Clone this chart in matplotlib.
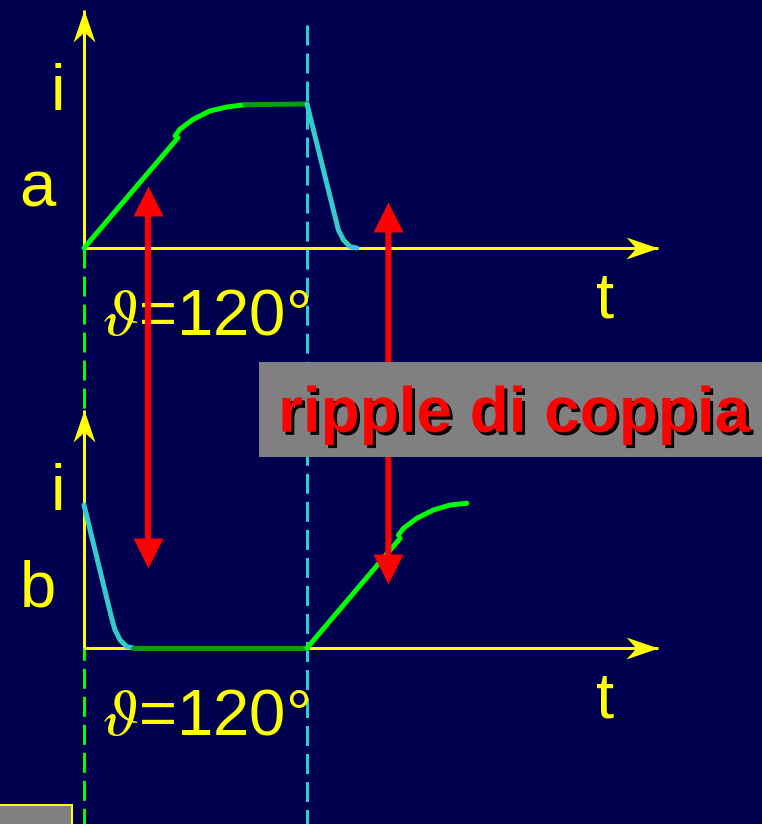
import matplotlib
matplotlib.use('Agg')
import matplotlib.pyplot as plt
from matplotlib.path import Path
from matplotlib.patches import Rectangle, ConnectionPatch
from matplotlib.transforms import offset_copy
import matplotlib.patheffects as pe

plt.rcParams['font.family'] = ['Liberation Sans', 'DejaVu Sans']
plt.rcParams['mathtext.fontset'] = 'stix'

# ---------------- data (t in electrical degrees, i normalised: plateau = 1) ----
a_rise_t = [0, 50.6]
a_rise_i = [0, 0.766]
a_knee_t = [49.0, 51.7, 58.8, 67.8, 76.8, 86.7]
a_knee_i = [0.779, 0.826, 0.894, 0.952, 0.979, 0.995]
a_flat_t = [86.7, 120]
a_flat_i = [0.995, 1.0]
a_fall_t = [120, 135.1, 136.9, 139.6, 143.2, 146.8]
a_fall_i = [1.0, 0.217, 0.125, 0.056, 0.009, 0.0]

b_fall_t = [0, 14.9, 16.7, 19.4, 23.0, 26.5]
b_fall_i = [0.993, 0.206, 0.125, 0.056, 0.009, 0.0]
b_flat_t = [26.5, 120]
b_flat_i = [0, 0]
b_rise_t = [120, 170.1]
b_rise_i = [0, 0.762]
b_knee_t = [169.2, 171.9, 179.1, 188.0, 197.0, 206.0]
b_knee_i = [0.785, 0.831, 0.901, 0.958, 0.993, 1.005]

commutation_t = 120
axis_t_end = 309
axis_i_end = 1.653
dash_top_i = 1.549
dash_bottom_i = -4.2

ripple_t = [34.4, 163.8]
ripple_top_i = [0.433, 0.321]   # arrow tip, panel a
ripple_bot_i = [0.553, 0.444]   # arrow tip, panel b

panel_labels = ['a', 'b']
current_label = 'i'
time_label = 't'
angle_label = r'$\vartheta$=120°'
ripple_label = 'ripple di coppia'

# ---------------- layout / style ----------------
W, H, DPI = 762, 824, 100
X0 = 84                 # pixel x of the origins
PX_PER_DEG = 223 / 120
PX_PER_UNIT = 144
OY_A, OY_B = 248, 648   # pixel y of the two origins

BG = '#000050'
YEL = '#ffff00'
GRN = '#00ff00'
DGRN = '#00a000'
CYAN = '#33cccc'
RED = '#ff0000'
GRAY = '#808080'
PT = 0.72               # points per pixel at 100 dpi

fig = plt.figure(figsize=(W / DPI, H / DPI), dpi=DPI, facecolor=BG)
ax = fig.add_axes([0, 0, 1, 1])
ax.set_xlim(-X0 / PX_PER_DEG, (W - X0) / PX_PER_DEG)
ax.set_ylim(-(H - OY_A) / PX_PER_UNIT, OY_A / PX_PER_UNIT)
ax.axis('off')
ax.set_facecolor(BG)

tA = ax.transData
tB = offset_copy(ax.transData, fig=fig, x=0, y=-(OY_B - OY_A), units='dots')

# marker shapes (tip at the origin of the path)
head_right = Path([(0, 0), (-1, 0.344), (-0.69, 0), (-1, -0.344), (0, 0)],
                  [Path.MOVETO, Path.LINETO, Path.LINETO, Path.LINETO, Path.CLOSEPOLY])
head_up = Path([(0, 0), (-0.344, -1), (0, -0.69), (0.344, -1), (0, 0)],
               [Path.MOVETO, Path.LINETO, Path.LINETO, Path.LINETO, Path.CLOSEPOLY])
tri_up = Path([(0, 0), (-0.5, -1), (0.5, -1), (0, 0)],
              [Path.MOVETO, Path.LINETO, Path.LINETO, Path.CLOSEPOLY])
tri_down = Path([(0, 0), (-0.5, 1), (0.5, 1), (0, 0)],
                [Path.MOVETO, Path.LINETO, Path.LINETO, Path.CLOSEPOLY])

dash = (0, (6.67, 2.67))
# vertical reference lines
ax.plot([0, 0], [0, dash_bottom_i], color=GRN, lw=3 * PT, ls=dash,
        dash_capstyle='butt', transform=tA, zorder=1)
ax.plot([commutation_t, commutation_t], [dash_top_i, dash_bottom_i], color=CYAN,
        lw=3 * PT, ls=dash, dash_capstyle='butt', transform=tA, zorder=1)

# axes with arrows
for tr in (tA, tB):
    ax.plot([0, axis_t_end], [0, 0], color=YEL, lw=3 * PT, transform=tr, zorder=2,
            solid_capstyle='butt')
    ax.plot([0, 0], [0, axis_i_end], color=YEL, lw=3 * PT, transform=tr, zorder=2,
            solid_capstyle='butt')
    ax.plot([axis_t_end], [0], marker=head_right, ms=2 * 32 * PT, color=YEL,
            mew=0, transform=tr, zorder=2)
    ax.plot([0], [axis_i_end], marker=head_up, ms=2 * 32 * PT, color=YEL,
            mew=0, transform=tr, zorder=2)

lw_c = 5 * PT
kw = dict(lw=lw_c, solid_capstyle='round', zorder=3)
ax.plot(a_rise_t, a_rise_i, color=GRN, transform=tA, **kw)
ax.plot(a_knee_t, a_knee_i, color=GRN, transform=tA, **kw)
ax.plot(a_flat_t, a_flat_i, color=DGRN, transform=tA, **kw)
ax.plot(a_fall_t, a_fall_i, color=CYAN, transform=tA, **kw)

ax.plot(b_fall_t, b_fall_i, color=CYAN, transform=tB, **kw)
ax.plot(b_flat_t, b_flat_i, color=DGRN, transform=tB, **kw)
ax.plot(b_rise_t, b_rise_i, color=GRN, transform=tB, **kw)
ax.plot(b_knee_t, b_knee_i, color=GRN, transform=tB, **kw)

# text labels
fs = 47
for tr, lab in zip((tA, tB), panel_labels):
    ax.text(-14, 0.958, current_label, color=YEL, fontsize=fs, ha='center',
            va='baseline', transform=tr, zorder=4)
    ax.text(-25, 0.285, lab, color=YEL, fontsize=fs, ha='center',
            va='baseline', transform=tr, zorder=4)
    ax.text(280.4, -0.486, time_label, color=YEL, fontsize=fs, ha='center',
            va='baseline', transform=tr, zorder=4)
    ax.text(9.7, -0.604, angle_label, color=YEL, fontsize=fs, ha='left',
            va='baseline', transform=tr, zorder=4)

# red ripple arrows
for t, it, ib in zip(ripple_t, ripple_top_i, ripple_bot_i):
    con = ConnectionPatch((t, it), (t, ib), coordsA=tA, coordsB=tB,
                          arrowstyle='-', color=RED, lw=6 * PT,
                          shrinkA=15, shrinkB=15, zorder=5)
    con.set_capstyle('butt')
    ax.add_artist(con)
    ax.plot([t], [it], marker=tri_up, ms=2 * 30 * PT, color=RED, mew=0,
            transform=tA, zorder=5)
    ax.plot([t], [ib], marker=tri_down, ms=2 * 30 * PT, color=RED, mew=0,
            transform=tB, zorder=5)

# grey label box
ax.add_patch(Rectangle((94.0, -1.451), 300, 0.659, facecolor=GRAY,
                       edgecolor='none', transform=tA, zorder=6))
ax.text(231.4, -1.276, ripple_label, color=RED, fontsize=46, fontweight='bold',
        ha='center', va='baseline', transform=tA, zorder=7,
        path_effects=[pe.withSimplePatchShadow(offset=(2.2, -2.2),
                                               shadow_rgbFace='black', alpha=1.0)])

# small box bottom-left
ax.add_patch(Rectangle((-50, -1.6), 43.5, 0.51, facecolor=GRAY,
                       edgecolor=YEL, lw=2 * PT, transform=tB, zorder=6))

fig.savefig('out.png', dpi=DPI, facecolor=BG)
